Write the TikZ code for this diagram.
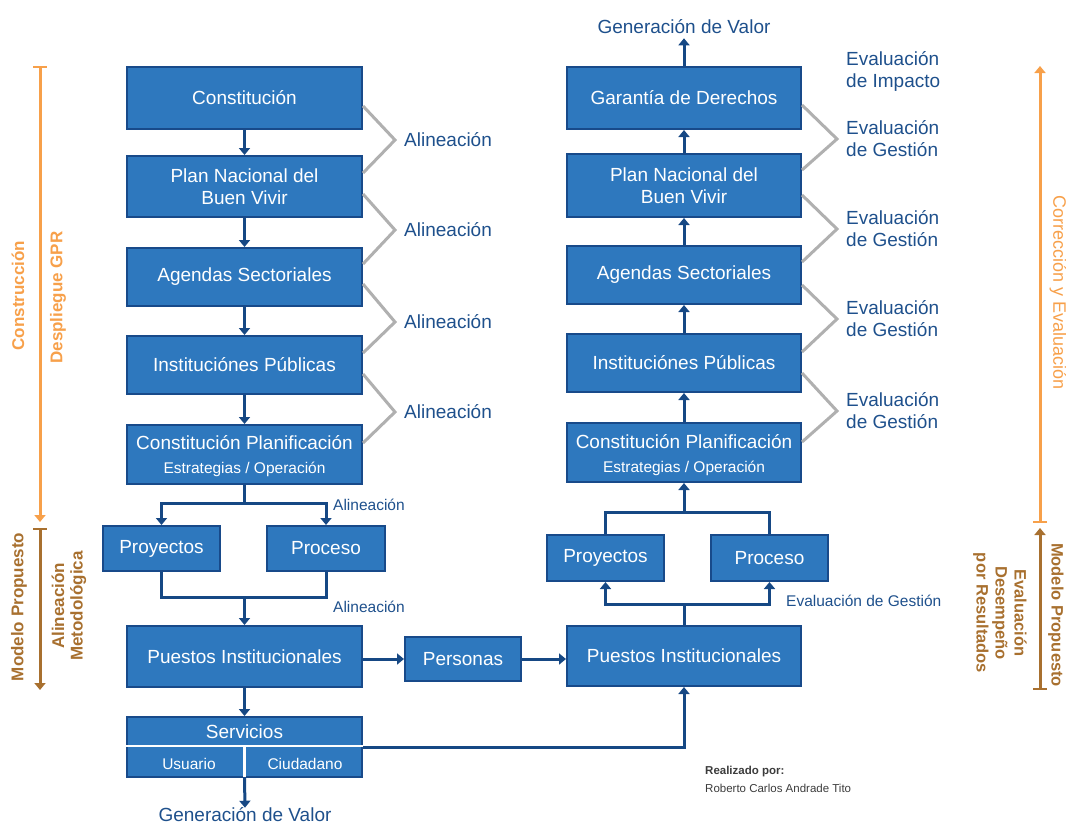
\documentclass[tikz,border=0pt]{standalone}
\usepackage{fontspec}
\setmainfont{Liberation Sans}
\usetikzlibrary{arrows.meta}
\definecolor{boxfill}{RGB}{46,120,190}
\definecolor{boxline}{RGB}{24,74,138}
\definecolor{navy}{RGB}{22,72,132}
\definecolor{lbl}{RGB}{30,80,140}
\definecolor{chevc}{RGB}{176,176,176}
\definecolor{orng}{RGB}{247,160,74}
\definecolor{brwn}{RGB}{168,112,47}
\definecolor{foot}{RGB}{60,60,60}
\tikzset{
 box/.style={draw=boxline, fill=boxfill, line width=2pt, text=white,
   font=\fontsize{19}{22}\selectfont, align=center, inner sep=0pt},
 intext/.style={text=white, inner sep=0pt},
 conn/.style={draw=navy, line width=3pt, -{Triangle[length=7pt,width=11pt]}},
 link/.style={draw=navy, line width=3pt},
 chevline/.style={draw=chevc, line width=3pt, line join=miter},
 biglbl/.style={text=lbl, font=\fontsize{19}{22}\selectfont, align=left, inner sep=0pt},
 smalllbl/.style={text=lbl, font=\fontsize{15.5}{18}\selectfont, inner sep=0pt},
 sidelbl/.style={font=\bfseries\fontsize{17}{18.5}\selectfont, align=center, inner sep=0pt},
 sidebar/.style={line width=3pt, {Bar[width=14pt,line width=2pt]}-{Triangle[length=7pt,width=11pt]}},
}
\newcommand{\smallf}{\fontsize{15.5}{18}\selectfont}
\begin{document}
\begin{tikzpicture}[x=1pt,y=-1pt]
\useasboundingbox (0,0) rectangle (1066,825);
% ---------- left column ----------
\node[box, minimum width=235pt, minimum height=62pt] (c1) at (244.5,98) {Constitución};
\node[box, minimum width=235pt, minimum height=61pt] (pn1) at (244.5,186.5) {Plan Nacional del\\Buen Vivir};
\node[box, minimum width=235pt, minimum height=58pt] (ag1) at (244.5,277) {Agendas Sectoriales};
\node[box, minimum width=235pt, minimum height=58pt] (ip1) at (244.5,365) {Instituciónes Públicas};
\node[box, minimum width=235pt, minimum height=59pt] (cp1) at (244.5,454.5) {};
\node[intext, font=\fontsize{19}{22}\selectfont] (cp1a) at (244.5,443) {Constitución Planificación};
\node[intext, font=\smallf] (cp1b) at (244.5,469) {Estrategias / Operación};
\node[box, minimum width=117pt, minimum height=45pt] (proy1) at (161.5,548.5) {Proyectos};
\node[box, minimum width=118pt, minimum height=45pt] (proc1) at (326,548.5) {Proceso};
\node[box, minimum width=235pt, minimum height=61pt] (pu1) at (244.5,656.5) {Puestos Institucionales};
\node[box, minimum width=116pt, minimum height=44pt] (pers) at (463,659) {Personas};
\node[box, minimum width=235pt, minimum height=60pt] (serv) at (244.5,747) {};
\node[intext, font=\fontsize{19}{22}\selectfont] (serva) at (244.5,732) {Servicios};
\node[intext, font=\smallf] (servb) at (189,764) {Usuario};
\node[intext, font=\smallf] (servc) at (305,764) {Ciudadano};
\draw[white, line width=2.5pt] (serv.west |- 0,746) coordinate (sdl) -- (serv.east |- 0,746) coordinate (sdr);
\draw[white, line width=2.5pt] (244.5,746) coordinate (sdt) -- ([yshift=1pt]serv.south) ;
\node[biglbl] (gv1) at (245,815) {Generación de Valor};
% ---------- right column ----------
\node[box, minimum width=234pt, minimum height=62pt] (gd) at (684,98) {Garantía de Derechos};
\node[box, minimum width=234pt, minimum height=63pt] (pn2) at (684,185.5) {Plan Nacional del\\Buen Vivir};
\node[box, minimum width=234pt, minimum height=58pt] (ag2) at (684,275) {Agendas Sectoriales};
\node[box, minimum width=234pt, minimum height=58pt] (ip2) at (684,363) {Instituciónes Públicas};
\node[box, minimum width=234pt, minimum height=59pt] (cp2) at (684,452.5) {};
\node[intext, font=\fontsize{19}{22}\selectfont] (cp2a) at (684,442) {Constitución Planificación};
\node[intext, font=\smallf] (cp2b) at (684,468) {Estrategias / Operación};
\node[box, minimum width=117pt, minimum height=46pt] (proy2) at (605.5,558) {Proyectos};
\node[box, minimum width=117pt, minimum height=46pt] (proc2) at (769.5,558) {Proceso};
\node[box, minimum width=234pt, minimum height=60pt] (pu2) at (684,656) {Puestos Institucionales};
\node[biglbl] (gv2) at (684,27) {Generación de Valor};
% ---------- left connectors ----------
\draw[conn] (c1) -- (pn1);
\draw[conn] (pn1) -- (ag1);
\draw[conn] (ag1) -- (ip1);
\draw[conn] (ip1) -- (cp1);
\coordinate (j0) at (244.5,503);
\draw[link] (cp1.south) -- (j0);
\draw[conn] (j0) -| (proy1.north);
\draw[conn] (j0) -| (proc1.north);
\coordinate (j1) at (244.5,597);
\draw[link] (proy1.south) |- (j1) -| (proc1.south);
\draw[conn] (j1) -- (pu1.north);
\draw[conn] (pers.west -| pu1.east) -- (pers.west);
\draw[conn] (pers.east) -- (pers.east -| pu2.west);
\draw[conn] (pu1) -- (serv);
\draw[conn] (serv.east) -| (pu2.south);
\draw[conn] (serv.south) -- (gv1.north);
\node[smalllbl, anchor=west] (al5) at (333,505) {Alineación};
\node[smalllbl, anchor=west] (al6) at (333,607) {Alineación};
% ---------- right connectors ----------
\draw[conn] (cp2) -- (ip2);
\draw[conn] (ip2) -- (ag2);
\draw[conn] (ag2) -- (pn2);
\draw[conn] (pn2) -- (gd);
\draw[conn] (gd.north) -- ([yshift=-4pt]gv2.south);
\coordinate (j2) at (684,604);
\draw[link] (pu2.north) -- (j2);
\draw[conn] (j2) -| (proy2.south);
\draw[conn] (j2) -| (proc2.south);
\coordinate (j3) at (684,512);
\draw[link] (proy2.north) |- (j3) -| (proc2.north);
\draw[conn] (j3) -- (cp2.south);
\node[smalllbl, anchor=west] (eg5) at (786,601) {Evaluación de Gestión};
% ---------- chevrons left ----------
\node[biglbl, anchor=west] (al1) at (404,140) {Alineación};
\node[biglbl, anchor=west] (al2) at (404,230) {Alineación};
\node[biglbl, anchor=west] (al3) at (404,322) {Alineación};
\node[biglbl, anchor=west] (al4) at (404,412) {Alineación};
\draw[chevline] ([yshift=24pt]c1.south east) -- ([xshift=-9pt]al1.west) -- ([yshift=-18pt]pn1.north east);
\draw[chevline] ([yshift=24pt]pn1.south east) -- ([xshift=-9pt]al2.west) -- ([yshift=-17pt]ag1.north east);
\draw[chevline] ([yshift=23pt]ag1.south east) -- ([xshift=-9pt]al3.west) -- ([yshift=-18pt]ip1.north east);
\draw[chevline] ([yshift=21pt]ip1.south east) -- ([xshift=-9pt]al4.west) -- ([yshift=-19pt]cp1.north east);
% ---------- chevrons right ----------
\node[biglbl, anchor=west] (ei) at (846,71) {Evaluación\\de Impacto};
\node[biglbl, anchor=west] (eg1) at (846,139) {Evaluación\\de Gestión};
\node[biglbl, anchor=west] (eg2) at (846,229) {Evaluación\\de Gestión};
\node[biglbl, anchor=west] (eg3) at (846,319) {Evaluación\\de Gestión};
\node[biglbl, anchor=west] (eg4) at (846,411) {Evaluación\\de Gestión};
\draw[chevline] ([yshift=25pt]gd.south east) -- ([xshift=-9pt]eg1.west) -- ([yshift=-17pt]pn2.north east);
\draw[chevline] ([yshift=23pt]pn2.south east) -- ([xshift=-9pt]eg2.west) -- ([yshift=-17pt]ag2.north east);
\draw[chevline] ([yshift=20pt]ag2.south east) -- ([xshift=-9pt]eg3.west) -- ([yshift=-19pt]ip2.north east);
\draw[chevline] ([yshift=20pt]ip2.south east) -- ([xshift=-9pt]eg4.west) -- ([yshift=-20pt]cp2.north east);
% ---------- side bars ----------
\coordinate (lo1) at (40,66); \coordinate (lo2) at (40,522);
\coordinate (lb1) at (40,528); \coordinate (lb2) at (40,690);
\coordinate (ro1) at (1040,523); \coordinate (ro2) at (1040,66);
\coordinate (rb1) at (1040,690); \coordinate (rb2) at (1040,528);
\draw[sidebar, orng] (lo1) -- (lo2);
\draw[sidebar, brwn] (lb1) -- (lb2);
\draw[sidebar, orng] (ro1) -- (ro2);
\draw[sidebar, brwn] (rb1) -- (rb2);
\node[sidelbl, text=orng, rotate=90] (s1) at (18,295.5) {Construcción};
\node[sidelbl, text=orng, rotate=90] (s2) at (58,297.5) {Despliegue GPR};
\node[sidelbl, text=brwn, rotate=90] (s3) at (19,607) {Modelo Propuesto};
\node[sidelbl, text=brwn, rotate=90] (s4) at (69,606) {Alineación\\Metodológica};
\node[text=orng, rotate=-90, inner sep=0pt, font=\fontsize{18}{20}\selectfont] (s5) at (1058,293) {Corrección y Evaluación};
\node[sidelbl, text=brwn, rotate=-90, font=\bfseries\fontsize{16.5}{18}\selectfont] (s6) at (1056,615) {Modelo Propuesto};
\node[sidelbl, text=brwn, rotate=-90, font=\bfseries\fontsize{16.5}{19}\selectfont] (s7) at (1000,613) {Evaluación\\Desempeño\\por Resultados};
% ---------- footer ----------
\node[anchor=west, inner sep=0pt, text=foot, font=\bfseries\fontsize{11.5}{13}\selectfont] (f1) at (705,772) {Realizado por:};
\node[anchor=west, inner sep=0pt, text=foot, font=\fontsize{11.5}{13}\selectfont] (f2) at (705,788) {Roberto Carlos Andrade Tito};
\end{tikzpicture}
\end{document}
